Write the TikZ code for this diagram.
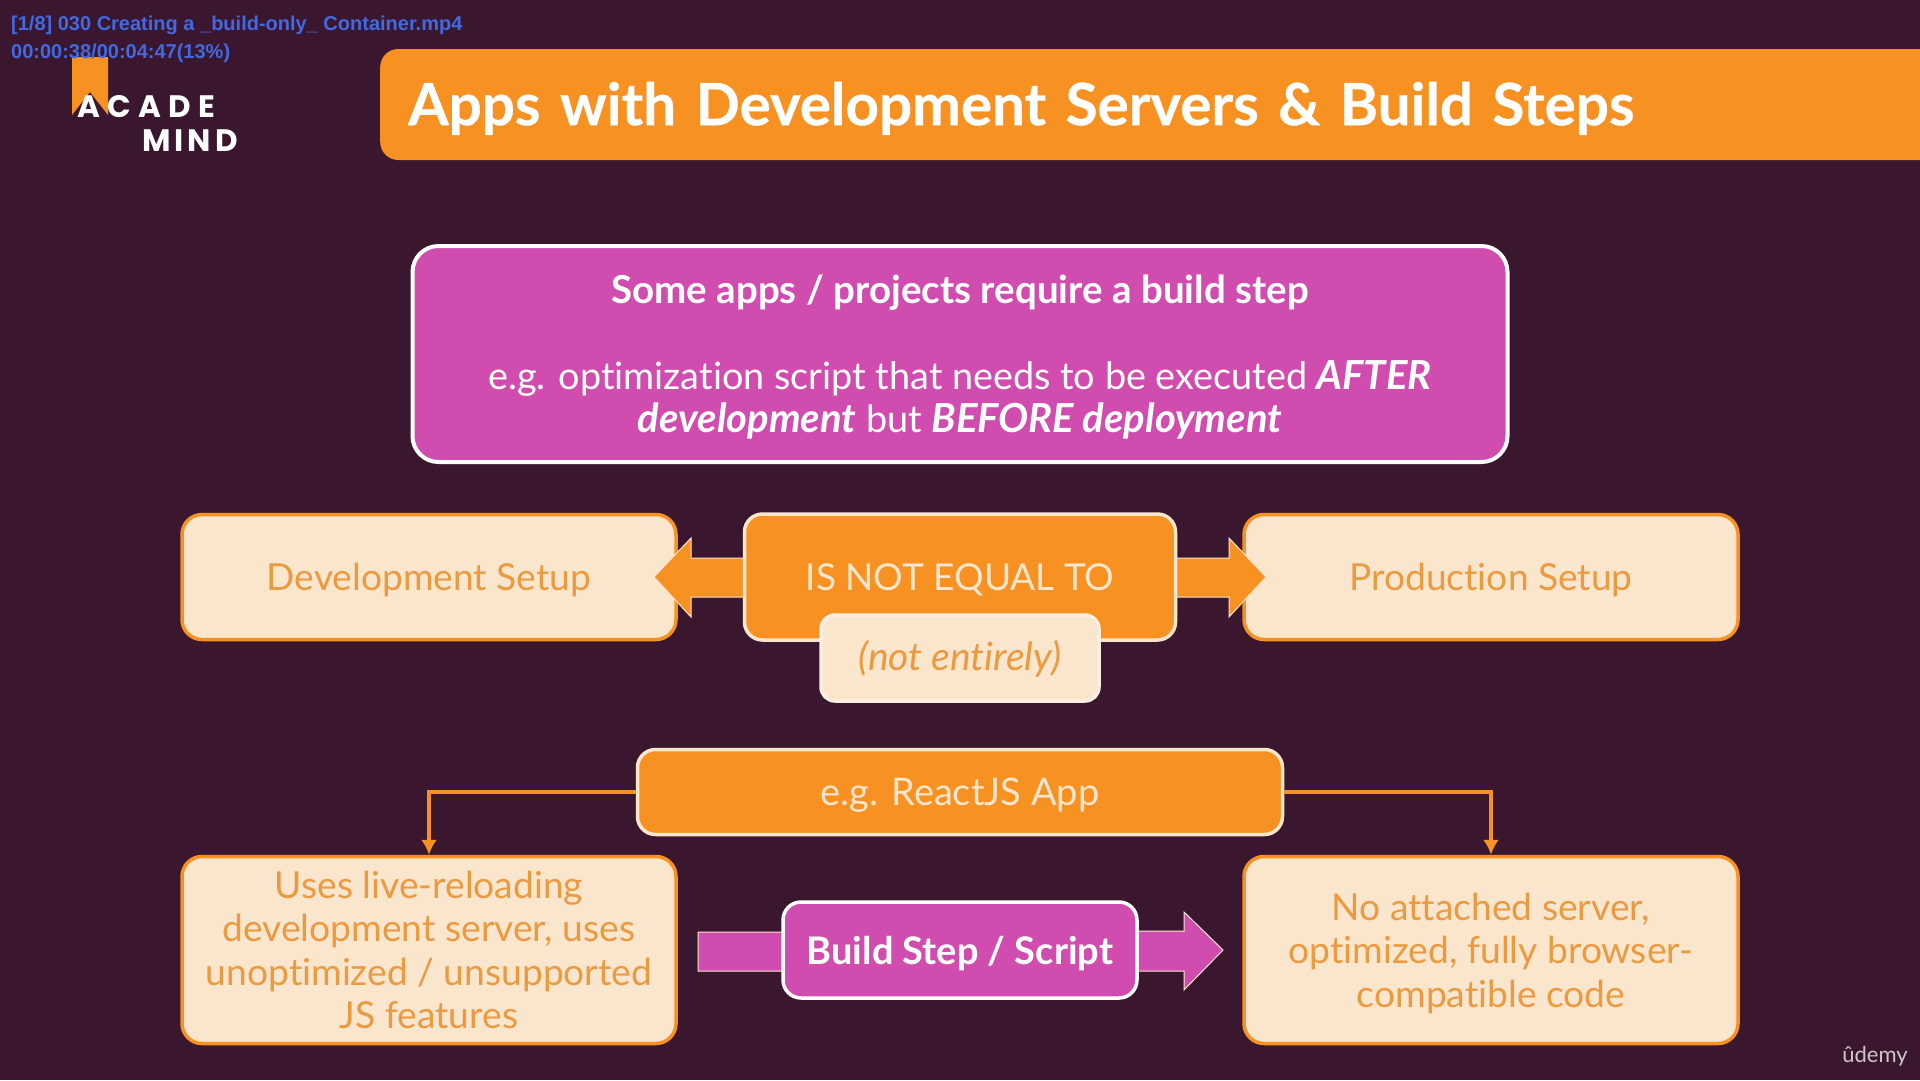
\documentclass[tikz,border=0pt]{standalone}
\usepackage{fontspec}
\setmainfont{Lato}[Ligatures=NoCommon]
\newfontfamily\overlayfont{Liberation Sans}
\newfontfamily\logofont{Poppins}
\newcommand{\px}[1]{\fontsize{#1pt}{43.5pt}\selectfont}
\newcommand{\strongit}[1]{{\fontsize{40pt}{43.5pt}\selectfont\textbf{\textit{#1}}}}
\definecolor{plumbg}{HTML}{3A172F}
\definecolor{barorange}{HTML}{F79122}
\definecolor{slidepink}{HTML}{D04CAF}
\definecolor{creamfill}{HTML}{FAE5CD}
\definecolor{softtext}{HTML}{EB9A3F}
\definecolor{overlayblue}{HTML}{4169E1}
\usetikzlibrary{arrows.meta}
\begin{document}
\begin{tikzpicture}[
x=1pt, y=-1pt,
pinkbox/.style={rectangle, rounded corners=26pt, draw=white, line width=3.5pt, fill=slidepink, text=white, align=center, text depth=0pt},
orangebox/.style={rectangle, rounded corners=18pt, draw=creamfill, line width=3.5pt, fill=barorange, text=creamfill, align=center, text depth=0pt},
creambox/.style={rectangle, rounded corners=20pt, draw=barorange, line width=3.5pt, fill=creamfill, text=softtext, align=center, minimum width=494pt, font=\px{37.2}, text depth=0pt},
blockarrow/.style={draw=creamfill, line width=1pt, fill=barorange},
pinkarrow/.style={draw=creamfill, line width=1pt, fill=slidepink},
linkline/.style={draw=barorange, line width=4.5pt, -{Latex[length=15pt,width=16pt]}},
overlay/.style={text=overlayblue, inner sep=0pt, anchor=west, font=\overlayfont\bfseries\fontsize{20}{24}\selectfont},
logotext/.style={text=white, inner sep=0pt, anchor=west, font=\logofont\bfseries\fontsize{31}{36}\selectfont},
]
\useasboundingbox (0,0) rectangle (1920,1080);
\fill[plumbg] (0,0) rectangle (1920,1080);
%Logo
\fill[barorange] (72,57) -- (108,57) -- (108,115) -- (90,92) -- (72,115) -- cycle;
\node[logotext] at (77,107) (logoacade) {\addfontfeatures{LetterSpace=24}ACADE};
\node[logotext] at (142,141) (logomind) {\addfontfeatures{LetterSpace=13}MIND};
\node[overlay] at (11,25) (overlayname) {[1/8] 030 Creating a \_build-only\_ Container.mp4};
\node[overlay] at (11,53) (overlaytime) {00:00:38/00:04:47(13\%)};
%Nodes
\node[rectangle, rounded corners=18pt, fill=barorange, text=white, anchor=west, align=left, minimum height=111pt, text width=1564pt, inner xsep=28pt, text depth=2pt, font=\bfseries\px{58.3}] at (380,104.5) (title) {\addfontfeatures{FakeBold=0.5}Apps with Development Servers \& Build Steps};
\node[pinkbox, minimum width=1095pt, minimum height=216pt, font=\px{37.8}, line width=4pt] at (960,354) (buildinfo) {{\fontsize{38.5pt}{43.5pt}\selectfont\textbf{Some apps / projects require a build step}}\\[42pt]e.g. optimization script that needs to be executed \strongit{AFTER}\\\strongit{development} but \strongit{BEFORE deployment}};
\node[creambox, minimum height=125pt] at (429,577) (devsetup) {Development Setup};
\node[creambox, minimum height=125pt] at (1491,577) (prodsetup) {Production Setup};
\node[creambox, minimum height=187pt] at (429,950) (devcode) {Uses live-reloading\\development server, uses\\unoptimized / unsupported\\JS features};
\node[creambox, minimum height=187pt] at (1491,950) (prodcode) {No attached server,\\optimized, fully browser-\\compatible code};
%Lines
\path[blockarrow] (744,577) coordinate (notequalleft) ++(0,-19) -- ++(-53,0) -- ++(0,-20) -- ++(-37,39) -- ++(37,40) -- ++(0,-20) -- ++(53,0) -- cycle;
\path[blockarrow] (1176,577) coordinate (notequalright) ++(0,-19) -- ++(53,0) -- ++(0,-20) -- ++(37,39) -- ++(-37,40) -- ++(0,-20) -- ++(-53,0) -- cycle;
\path[pinkarrow] (783,950) coordinate (buildleft) ++(0,-18) -- ++(-85,0) -- ++(0,39) -- ++(486,0) -- ++(0,19) -- ++(39,-40) -- ++(-39,-38) -- ++(0,19) -- cycle;
%Boxes over the lines
\node[orangebox, minimum width=431pt, minimum height=126pt, font=\px{37}] at (960,577) (notequal) {IS NOT EQUAL TO};
\node[rectangle, rounded corners=14pt, draw=creamfill!60!white, line width=3.5pt, fill=creamfill, text=softtext, minimum width=278pt, minimum height=86pt, text depth=5pt, font=\itshape\px{39}] at (960,658) (notentirely) {(not entirely)};
\node[orangebox, minimum width=645pt, minimum height=85pt, font=\px{38}] at (960,792) (reactapp) {e.g. ReactJS App};
\node[pinkbox, rounded corners=18pt, minimum width=354pt, minimum height=96pt, font=\bfseries\px{38}] at (960,950) (buildstep) {Build Step / Script};
\path[linkline] (reactapp.west) -| (devcode.north);
\path[linkline] (reactapp.east) -| (prodcode.north);
\node[text=white!75!plumbg, inner sep=0pt, font=\fontsize{22}{26}\selectfont] at (1875,1056) (udemy) {ûdemy};
\end{tikzpicture}
\end{document}
